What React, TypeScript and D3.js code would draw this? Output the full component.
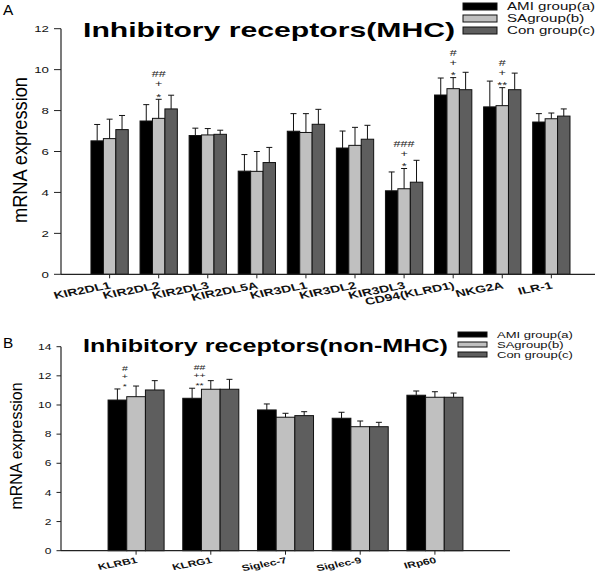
import React from 'react';
import * as d3 from 'd3';

// panel A: MHC receptors
const groupsA = ['KIR2DL1', 'KIR2DL2', 'KIR2DL3', 'KIR2DL5A', 'KIR3DL1', 'KIR3DL2', 'KIR3DL3', 'CD94(KLRD1)', 'NKG2A', 'ILR-1'];
const amiA = [6.52, 7.49, 6.78, 5.04, 6.99, 6.17, 4.08, 8.76, 8.18, 7.44];
const saA = [6.63, 7.62, 6.81, 5.03, 6.93, 6.3, 4.18, 9.07, 8.24, 7.6];
const conA = [7.07, 8.08, 6.84, 5.46, 7.33, 6.6, 4.5, 9.02, 9.02, 7.73];
const amiErrA = [0.8, 0.8, 0.36, 0.81, 0.86, 0.83, 0.92, 0.83, 1.26, 0.41];
const saErrA = [0.95, 0.93, 0.31, 0.97, 0.92, 0.88, 0.99, 0.54, 0.88, 0.28];
const conErrA = [0.69, 0.67, 0.2, 0.74, 0.73, 0.68, 1.07, 0.85, 0.81, 0.35];
const ticksA = [0, 2, 4, 6, 8, 10, 12];
const marksA = [
  { group: 'KIR2DL2', lines: ['##', '+', '*'] },
  { group: 'KIR3DL3', lines: ['###', '+', '*'] },
  { group: 'CD94(KLRD1)', lines: ['#', '+', '*'] },
  { group: 'NKG2A', lines: ['#', '+', '**'] },
];

// panel B: non-MHC receptors
const groupsB = ['KLRB1', 'KLRG1', 'Siglec-7', 'Siglec-9', 'IRp60'];
const amiB = [10.34, 10.46, 9.66, 9.09, 10.67];
const saB = [10.57, 11.08, 9.16, 8.51, 10.53];
const conB = [11.03, 11.08, 9.27, 8.51, 10.53];
const amiErrB = [0.76, 0.69, 0.41, 0.41, 0.29];
const saErrB = [0.73, 0.59, 0.27, 0.39, 0.38];
const conErrB = [0.64, 0.68, 0.27, 0.3, 0.29];
const ticksB = [0, 2, 4, 6, 8, 10, 12, 14];
const marksB = [
  { group: 'KLRB1', lines: ['#', '+', '*'] },
  { group: 'KLRG1', lines: ['##', '++', '**'] },
];

const seriesNames = ['AMI group(a)', 'SAgroup(b)', 'Con group(c)'];
const seriesColors = ['#000000', '#c0c0c0', '#5e5e5e'];

const FONT = '"Liberation Sans", Arial, sans-serif';
const SX = 1.4; // the source figure is stretched sideways

const glyphLift: Record<string, number> = { '*': 0.6, '+': 0.34, '#': 0.35 };

interface PanelProps {
  letter: string;
  letterY: number;
  title: string;
  titleY: number;
  titleLen: number;
  titleSize: number;
  groups: string[];
  values: number[][];
  errs: number[][];
  ticks: number[];
  xRange: [number, number];
  yRange: [number, number];
  padInner: number;
  padOuter: number;
  align: number;
  tickSize: number;
  tickFont: number;
  labelFont: number;
  labelDy: number;
  yLabel: { x: number; y: number; size: number; len: number };
  legend: { x: number; y: number; w: number; h: number; step: number; font: number };
  marks: { group: string; lines: string[] }[];
  markFont: number;
  markStep: number;
  markFrac: number;
  markRef: number;
  markBase: number;
}

const Panel: React.FC<PanelProps> = (p) => {
  const x = d3.scaleBand<string>().domain(p.groups).range(p.xRange)
    .paddingInner(p.padInner).paddingOuter(p.padOuter).align(p.align);
  const y = d3.scaleLinear().domain([0, p.ticks[p.ticks.length - 1]]).range(p.yRange);
  const bw = x.bandwidth() / 3;
  const y0 = y(0);
  const cap = Math.min(6, bw * 0.5);

  return (
    <g fontFamily={FONT}>
      <text transform={`translate(3,${p.letterY}) scale(1.1,1)`} fontSize={14}>{p.letter}</text>
      <text x={83} y={p.titleY} fontSize={p.titleSize} fontWeight="bold" textLength={p.titleLen} lengthAdjust="spacingAndGlyphs">{p.title}</text>

      {/* y label */}
      <text transform={`translate(${p.yLabel.x},${p.yLabel.y}) rotate(-90)`} textAnchor="middle" dominantBaseline="middle"
        fontSize={p.yLabel.size} textLength={p.yLabel.len} lengthAdjust="spacingAndGlyphs">mRNA expression</text>

      {/* bars */}
      {p.groups.map((g, gi) => (
        <g key={g}>
          {p.values.map((vals, si) => {
            const bx = (x(g) as number) + si * bw;
            const top = y(vals[gi]);
            const et = y(vals[gi] + p.errs[si][gi]);
            const cx = bx + bw / 2;
            return (
              <g key={si}>
                <rect x={bx} y={top} width={bw} height={y0 - top} fill={seriesColors[si]} stroke="#111" strokeWidth={1} />
                <line x1={cx} x2={cx} y1={top} y2={et} stroke="#111" strokeWidth={1} />
                <line x1={cx - cap / 2} x2={cx + cap / 2} y1={et} y2={et} stroke="#111" strokeWidth={1} />
              </g>
            );
          })}
        </g>
      ))}

      {/* significance marks */}
      {p.marks.map((m) => {
        const gi = p.groups.indexOf(m.group);
        const mx = (x(m.group) as number) + x.bandwidth() * p.markFrac;
        const ref = p.values[p.markRef][gi] + p.errs[p.markRef][gi];
        const base = y(ref) + p.markBase;
        const n = m.lines.length;
        return (
          <g key={m.group}>
            {m.lines.map((s, li) => {
              const cy = base - (n - 1 - li) * p.markStep;
              const by = cy + glyphLift[s[0]] * p.markFont;
              return (
                <text key={li} transform={`translate(${mx},${by}) scale(${SX},1)`} textAnchor="middle" fontSize={p.markFont} fill="#222">{s}</text>
              );
            })}
          </g>
        );
      })}

      {/* y axis */}
      <line x1={p.xRange[0]} x2={p.xRange[0]} y1={y0} y2={y(p.ticks[p.ticks.length - 1])} stroke="#222" strokeWidth={1.2} />
      {p.ticks.map((t) => (
        <g key={t}>
          <line x1={p.xRange[0] - p.tickSize} x2={p.xRange[0]} y1={y(t)} y2={y(t)} stroke="#222" strokeWidth={1} />
          <text transform={`translate(${p.xRange[0] - p.tickSize - 5},${y(t) + p.tickFont * 0.36}) scale(${SX},1)`} textAnchor="end" fontSize={p.tickFont} fill="#111">{t}</text>
        </g>
      ))}

      {/* x axis */}
      <line x1={p.xRange[0]} x2={p.xRange[1]} y1={y0} y2={y0} stroke="#222" strokeWidth={1.2} />
      {p.groups.map((g) => {
        const cx = (x(g) as number) + x.bandwidth() / 2;
        return (
          <g key={g}>
            <line x1={cx} x2={cx} y1={y0} y2={y0 + 4} stroke="#222" strokeWidth={1} />
            <text transform={`translate(${cx + 2},${y0 + p.labelDy}) scale(${SX},1) rotate(-15)`} textAnchor="end" fontSize={p.labelFont} fontWeight="bold" fill="#111">{g}</text>
          </g>
        );
      })}

      {/* legend */}
      {seriesNames.map((s, i) => (
        <g key={s}>
          <rect x={p.legend.x} y={p.legend.y + i * p.legend.step} width={p.legend.w} height={p.legend.h} fill={seriesColors[i]} stroke="#111" strokeWidth={1} />
          <text transform={`translate(${p.legend.x + p.legend.w + 10},${p.legend.y + i * p.legend.step + p.legend.h / 2 + p.legend.font * 0.36}) scale(${SX},1)`}
            fontSize={p.legend.font} fill="#111">{s}</text>
        </g>
      ))}
    </g>
  );
};

const App: React.FC = () => (
  <svg width={600} height={577} style={{ position: 'absolute', left: 0, top: 0, background: '#fff' }}>
    <Panel
      letter="A" letterY={15}
      title="Inhibitory receptors(MHC)" titleY={37} titleLen={372} titleSize={21}
      groups={groupsA} values={[amiA, saA, conA]} errs={[amiErrA, saErrA, conErrA]} ticks={ticksA}
      xRange={[61, 595]} yRange={[274.3, 28.7]} padInner={0.24} padOuter={0.56} align={0.545}
      tickSize={7} tickFont={9.5} labelFont={10} labelDy={14}
      yLabel={{ x: 21, y: 150, size: 21, len: 146 }}
      legend={{ x: 463, y: 3, w: 34, h: 7, step: 12, font: 10.8 }}
      marks={marksA} markFont={9} markStep={10} markFrac={0.5} markRef={1} markBase={-5}
    />
    <Panel
      letter="B" letterY={348}
      title="Inhibitory receptors(non-MHC)" titleY={352} titleLen={365} titleSize={19}
      groups={groupsB} values={[amiB, saB, conB]} errs={[amiErrB, saErrB, conErrB]} ticks={ticksB}
      xRange={[61, 510]} yRange={[550.7, 346.7]} padInner={0.25} padOuter={0.63} align={0.5}
      tickSize={4.5} tickFont={8.6} labelFont={8.6} labelDy={12}
      yLabel={{ x: 18, y: 446, size: 16.5, len: 127 }}
      legend={{ x: 458, y: 332, w: 29, h: 5, step: 10, font: 9.3 }}
      marks={marksB} markFont={7.5} markStep={8} markFrac={0.3} markRef={0} markBase={-4.5}
    />
  </svg>
);

export default App;
